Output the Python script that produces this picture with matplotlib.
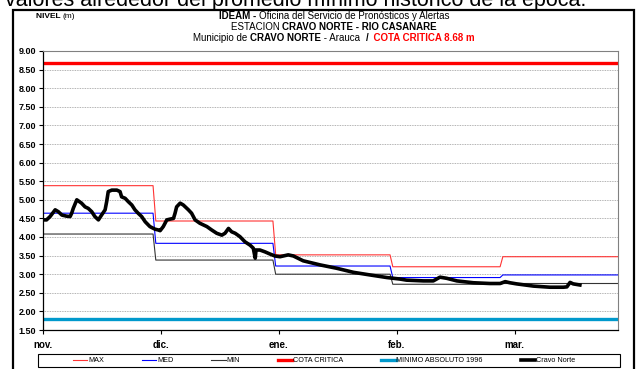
import matplotlib
matplotlib.use("Agg")
from matplotlib import pyplot as plt
from matplotlib.patches import Rectangle

plt.rcParams['font.family'] = ['Liberation Sans Narrow', 'Liberation Sans', 'DejaVu Sans']

# dias contados desde el 1 de noviembre
meses = ['nov.', 'dic.', 'ene.', 'feb.', 'mar.']
dias_mes = [0, 30, 60, 90, 120]

# cambios de nivel mensual (inicio de cada tramo) y valores historicos
cambios = [0, 28.0, 58.5, 88.3, 116.3]
fin = 146.3
nivel_max = [5.38, 4.43, 3.52, 3.20, 3.47]
nivel_med = [4.64, 3.83, 3.22, 2.91, 2.98]
nivel_min = [4.08, 3.38, 3.00, 2.73, 2.75]
cota_critica = 8.68
minimo_1996 = 1.80

# niveles observados Cravo Norte
cn_dia = [0.1, 0.9, 1.8, 3.1, 3.9, 4.8, 6.0, 6.9, 7.3, 7.7,
          8.6, 9.8, 10.7, 11.5, 12.4, 13.2, 14.1, 14.9, 15.8, 16.2,
          16.6, 17.5, 18.8, 19.6, 20.0, 20.9, 21.7, 22.6, 23.4, 24.2,
          25.1, 26.0, 27.2, 28.5, 29.3, 29.8, 30.6, 31.5, 32.3, 33.2,
          33.6, 34.0, 34.9, 35.7, 37.0, 37.8, 38.7, 39.9, 41.7, 42.9,
          44.2, 45.5, 46.3, 47.2, 48.0, 48.9, 50.1, 51.4, 52.7, 53.5,
          54.0, 54.2, 55.2, 56.5, 57.8, 59.0, 60.3, 62.4, 63.7, 66.2,
          70.5, 74.7, 79.0, 83.2, 87.5, 90.8, 92.5, 96.8, 99.3, 101.0,
          102.7, 105.3, 109.5, 113.7, 116.3, 117.6, 118.8, 120.5, 124.8, 129.0,
          132.4, 133.3, 134.1, 134.9, 136.6]
cn_nivel = [4.46, 4.46, 4.55, 4.73, 4.68, 4.59, 4.56, 4.55, 4.64, 4.77,
            5.00, 4.91, 4.81, 4.77, 4.68, 4.55, 4.46, 4.59, 4.73, 4.95,
            5.22, 5.26, 5.26, 5.22, 5.08, 5.04, 4.95, 4.86, 4.73, 4.64,
            4.55, 4.41, 4.28, 4.21, 4.19, 4.17, 4.28, 4.46, 4.48, 4.50,
            4.64, 4.81, 4.91, 4.86, 4.73, 4.64, 4.46, 4.37, 4.28, 4.19,
            4.10, 4.05, 4.10, 4.23, 4.14, 4.10, 4.01, 3.87, 3.78, 3.70,
            3.43, 3.65, 3.65, 3.60, 3.54, 3.49, 3.47, 3.52, 3.49, 3.36,
            3.25, 3.16, 3.05, 2.98, 2.91, 2.87, 2.84, 2.82, 2.82, 2.92,
            2.89, 2.82, 2.77, 2.75, 2.75, 2.80, 2.77, 2.74, 2.68, 2.65,
            2.65, 2.66, 2.78, 2.74, 2.71]


def escalones(valores, rampa=0.7):
    xs, ys = [], []
    for i, v in enumerate(valores):
        x0 = cambios[i] + (rampa if i > 0 else 0)
        x1 = cambios[i + 1] if i + 1 < len(cambios) else fin
        xs += [x0, x1]
        ys += [v, v]
    return xs, ys


W, H = 638, 369
fig = plt.figure(figsize=(W / 100, H / 100), dpi=100)
ax = fig.add_axes([43 / W, 1 - 330 / H, (618 - 43) / W, (330 - 51) / H])

ax.plot(*escalones(nivel_max), color='#ff3333', lw=0.8, label='MAX')
ax.plot(*escalones(nivel_med), color='#0000ff', lw=0.8, label='MED')
ax.plot(*escalones(nivel_min), color='#333333', lw=0.8, label='MIN')
ax.axhline(cota_critica, color='#ff0000', lw=2.4, label='COTA CRITICA')
ax.axhline(minimo_1996, color='#0099cc', lw=2.4, label='MINIMO ABSOLUTO 1996')
ax.plot(cn_dia, cn_nivel, color='black', lw=2.6, label='Cravo Norte')

ax.set_xlim(0, fin)
ax.set_ylim(1.5, 9.0)
ax.set_yticks([1.5 + 0.5 * i for i in range(16)])
ax.set_yticklabels(['%.2f' % (1.5 + 0.5 * i) for i in range(16)],
                   fontsize=6.5, fontweight='bold', family=['Liberation Sans', 'DejaVu Sans'])
ax.set_xticks(dias_mes)
ax.set_xticklabels(meses, fontsize=7, fontweight='bold', family=['Liberation Sans', 'DejaVu Sans'])
ax.tick_params(axis='y', length=3, width=0.8, pad=2)
ax.tick_params(axis='x', length=3, width=0.8, pad=4)
ax.yaxis.grid(True, linestyle=(0, (1, 1)), color='#999999', lw=0.6)
ax.set_axisbelow(True)
for lado in ['top', 'right']:
    ax.spines[lado].set_color('#808080')
    ax.spines[lado].set_linewidth(0.8)
for lado in ['left', 'bottom']:
    ax.spines[lado].set_color('black')
    ax.spines[lado].set_linewidth(0.9)

# leyenda en una fila con recuadro propio
fig.patches.append(Rectangle((37.7 / W, 1 - 367 / H), (620 - 37.7) / W, 13 / H,
                             transform=fig.transFigure, fill=False, ec='black', lw=0.8))
fig.legend(loc='center', bbox_to_anchor=(324 / W, 1 - 360.5 / H), ncol=6, frameon=False,
           fontsize=5.2, handlelength=2.0, handletextpad=0.1, columnspacing=5.25,
           borderaxespad=0, borderpad=0)

# marco exterior y texto de la pagina
fig.patches.append(Rectangle((12.5 / W, 1 - 380 / H), (634 - 12.5) / W, (380 - 10) / H,
                             transform=fig.transFigure, fill=False, ec='black', lw=1.6))
fig.text(5 / W, 1 - 6 / H, 'valores alrededor del promedio mínimo histórico de la época.',
         fontsize=15.5, va='baseline', ha='left', family=['Liberation Sans', 'DejaVu Sans'])

renderer = fig.canvas.get_renderer()


def linea(partes, y, x=None, tam=7):
    textos = []
    for s, peso, color in partes:
        textos.append(fig.text(0, 1 - y / H, s, fontsize=tam, fontweight=peso,
                               color=color, va='center', ha='left'))
    anchos = [t.get_window_extent(renderer).width for t in textos]
    if x is None:
        x = 334 - sum(anchos) / 2
    for t, a in zip(textos, anchos):
        t.set_x(x / W)
        x += a


linea([('NIVEL ', 'bold', 'black'), ('(m)', 'normal', 'black')], 17, x=36, tam=6)

linea([('IDEAM - ', 'bold', 'black'),
       ('Oficina del Servicio de Pronósticos y Alertas', 'normal', 'black')], 16)
linea([('ESTACION ', 'normal', 'black'),
       ('CRAVO NORTE - RIO CASANARE', 'bold', 'black')], 27)
linea([('Municipio de ', 'normal', 'black'),
       ('CRAVO NORTE', 'bold', 'black'),
       (' - Arauca  ', 'normal', 'black'),
       ('/', 'bold', 'black'),
       ('  COTA CRITICA 8.68 m', 'bold', '#ff0000')], 38)

fig.savefig('out.png', dpi=100)
